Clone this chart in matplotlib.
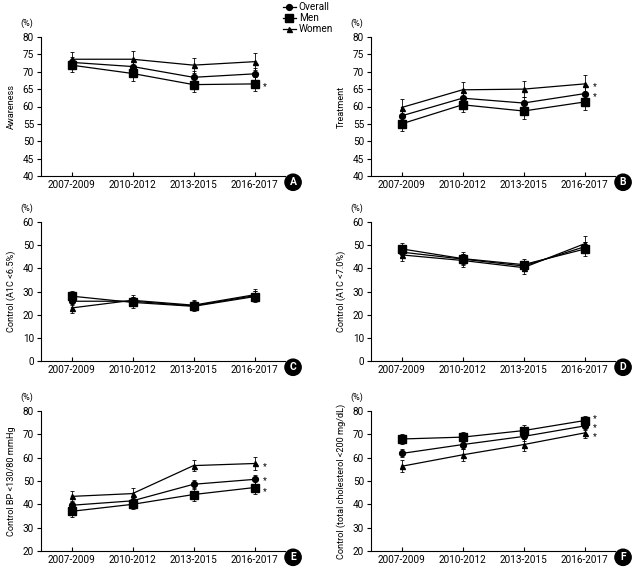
import numpy as np
import matplotlib
matplotlib.use("Agg")
import matplotlib.pyplot as plt
from matplotlib.lines import Line2D

plt.rcParams['font.family'] = ['Roboto', 'DejaVu Sans']

periods = ["2007-2009", "2010-2012", "2013-2015", "2016-2017"]

# A: awareness
aw_overall = [72.7, 71.5, 68.4, 69.4]
aw_men = [71.9, 69.5, 66.3, 66.5]
aw_women = [73.6, 73.6, 71.9, 72.9]
aw_err_overall = [1.6, 1.7, 1.7, 1.7]
aw_err_men = [1.9, 2.1, 2.1, 2.0]
aw_err_women = [2.2, 2.4, 2.2, 2.5]

# B: treatment
tr_overall = [57.3, 62.4, 61.0, 63.7]
tr_men = [55.0, 60.5, 58.7, 61.3]
tr_women = [59.7, 64.8, 65.0, 66.5]
tr_err_overall = [1.7, 1.8, 1.8, 1.8]
tr_err_men = [2.1, 2.1, 2.2, 2.2]
tr_err_women = [2.4, 2.3, 2.2, 2.5]

# C: A1C < 6.5%
c65_overall = [25.8, 25.8, 23.8, 28.2]
c65_men = [28.0, 25.3, 23.6, 27.8]
c65_women = [22.9, 26.2, 24.1, 28.6]
c65_err_overall = [1.8, 1.8, 1.7, 1.9]
c65_err_men = [2.3, 2.3, 2.2, 2.4]
c65_err_women = [2.3, 2.5, 2.2, 2.6]

# D: A1C < 7.0%
c70_overall = [47.0, 44.0, 41.0, 49.3]
c70_men = [48.4, 44.2, 41.6, 48.3]
c70_women = [45.8, 43.4, 40.3, 50.6]
c70_err_overall = [2.0, 2.0, 1.9, 2.2]
c70_err_men = [2.6, 2.7, 2.6, 2.9]
c70_err_women = [2.8, 3.0, 2.7, 3.2]

# E: BP < 130/80 mmHg
bp_overall = [39.6, 41.5, 48.6, 50.7]
bp_men = [37.0, 40.0, 44.2, 47.2]
bp_women = [43.4, 44.6, 56.6, 57.5]
bp_err_overall = [1.8, 1.9, 1.9, 2.0]
bp_err_men = [2.3, 2.2, 2.6, 2.6]
bp_err_women = [2.5, 2.6, 2.5, 2.8]

# F: total cholesterol < 200 mg/dL
tc_overall = [61.8, 65.6, 69.1, 73.6]
tc_men = [68.0, 68.8, 71.6, 75.9]
tc_women = [56.3, 61.2, 65.6, 70.6]
tc_err_overall = [1.7, 1.8, 1.8, 1.7]
tc_err_men = [2.2, 2.3, 2.2, 2.1]
tc_err_women = [2.6, 2.7, 2.6, 2.3]

panels = [
    ("A", "Awareness", (40, 80, 5),
     [aw_overall, aw_men, aw_women], [aw_err_overall, aw_err_men, aw_err_women], [False, True, False]),
    ("B", "Treatment", (40, 80, 5),
     [tr_overall, tr_men, tr_women], [tr_err_overall, tr_err_men, tr_err_women], [True, False, True]),
    ("C", "Control (A1C <6.5%)", (0, 60, 10),
     [c65_overall, c65_men, c65_women], [c65_err_overall, c65_err_men, c65_err_women], [False, False, False]),
    ("D", "Control (A1C <7.0%)", (0, 60, 10),
     [c70_overall, c70_men, c70_women], [c70_err_overall, c70_err_men, c70_err_women], [False, False, False]),
    ("E", "Control BP <130/80 mmHg", (20, 80, 10),
     [bp_overall, bp_men, bp_women], [bp_err_overall, bp_err_men, bp_err_women], [True, True, True]),
    ("F", "Control (total cholesterol <200 mg/dL)", (20, 80, 10),
     [tc_overall, tc_men, tc_women], [tc_err_overall, tc_err_men, tc_err_women], [True, True, True]),
]

series_names = ["Overall", "Men", "Women"]
markers = ["o", "s", "^"]
msizes = [4.2, 5.4, 3.6]

# vertical nudge (points) of asterisks where they would crowd together
star_nudge = {"E": [1, -1, 0], "F": [1, 3.5, -0.5]}

fig = plt.figure(figsize=(6.44, 5.73), dpi=100)

W, H = 644, 573
lefts = [41, 371]
tops = [37, 222, 411]
bottoms = [176, 361, 551]
width = 244

x = np.arange(len(periods))

for k, (letter, ylabel, (ymin, ymax, ystep), vals, errs, stars) in enumerate(panels):
    row, col = divmod(k, 2)
    l = lefts[col]
    ax = fig.add_axes([l / W, 1 - bottoms[row] / H, width / W, (bottoms[row] - tops[row]) / H])

    nudge = star_nudge.get(letter, [0, 0, 0])
    for i in range(3):
        ax.errorbar(x, vals[i], yerr=errs[i], color="black", lw=0.9, marker=markers[i],
                    ms=msizes[i], elinewidth=0.6, capsize=1.6, capthick=0.6, zorder=3)
        if stars[i]:
            ax.annotate("*", (x[-1], vals[i][-1]), xytext=(6, -2 + nudge[i]), textcoords="offset points",
                        fontsize=6.5, va="center", ha="left")

    ax.set_xlim(-0.5, 3.5)
    ax.set_ylim(ymin, ymax)
    ax.set_yticks(np.arange(ymin, ymax + 0.1, ystep))
    ax.set_xticks(x)
    ax.set_xticklabels(periods)
    ax.spines["top"].set_visible(False)
    ax.spines["right"].set_visible(False)
    ax.spines["left"].set_linewidth(0.8)
    ax.spines["bottom"].set_linewidth(0.8)
    ax.tick_params(axis="y", direction="out", length=3, width=0.8, labelsize=7.2, pad=2)
    ax.tick_params(axis="x", direction="in", length=3, width=0.8, labelsize=7.2, pad=3)
    ax.set_ylabel(ylabel, fontsize=6.6)
    ax.yaxis.set_label_coords(-0.102, 0.5)
    ax.text(-0.057, 1.1, "(%)", transform=ax.transAxes, fontsize=6.5, ha="center", va="center")
    ax.text(1.033, -0.045, letter, transform=ax.transAxes, fontsize=7.5, fontweight="bold",
            color="white", ha="center", va="center",
            bbox=dict(boxstyle="circle,pad=0.3", fc="black", ec="black"))

handles = [Line2D([0], [0], color="black", lw=0.9, marker=m, ms=s) for m, s in zip(markers, msizes)]
fig.legend(handles, series_names, loc="upper left", bbox_to_anchor=(0.425, 1.012),
           frameon=False, fontsize=7.2, handlelength=1.3, handletextpad=0.3, labelspacing=0.1)

fig.savefig("out.png", dpi=100)
